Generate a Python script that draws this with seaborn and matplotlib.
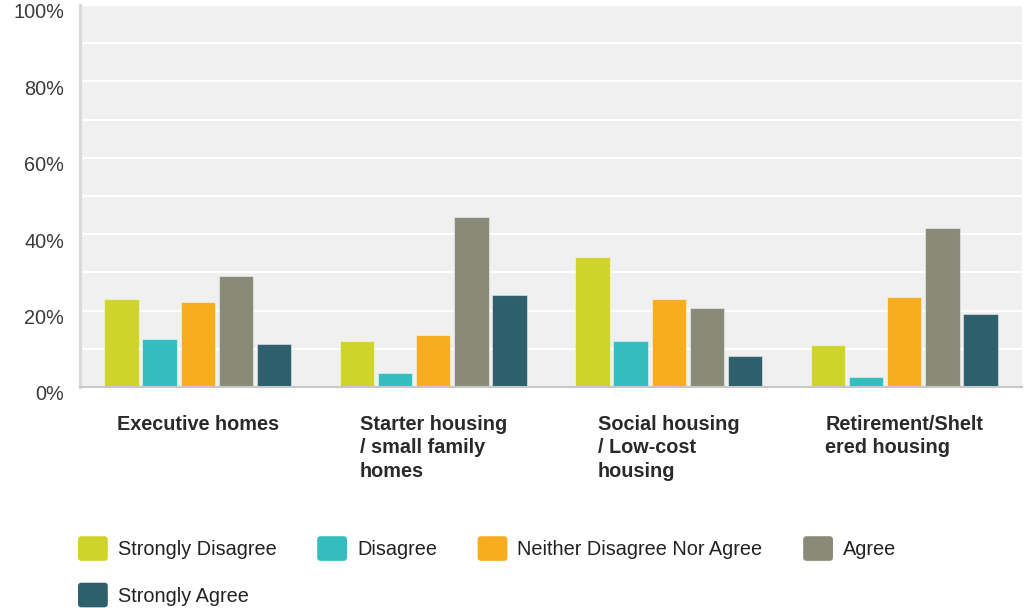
import matplotlib
matplotlib.use("Agg")
import matplotlib.pyplot as plt
import seaborn as sns
import pandas as pd
from matplotlib.patches import FancyBboxPatch
from matplotlib.legend_handler import HandlerPatch
from matplotlib.transforms import ScaledTranslation
from matplotlib.ticker import MultipleLocator, FuncFormatter

categories = ["Executive homes", "Starter housing\n/ small family\nhomes",
              "Social housing\n/ Low-cost\nhousing", "Retirement/Shelt\nered housing"]
responses = ["Strongly Disagree", "Disagree", "Neither Disagree Nor Agree", "Agree", "Strongly Agree"]
strongly_disagree = [23.1, 12.1, 34.1, 11.1]
disagree = [12.6, 3.6, 12.1, 2.7]
neither = [22.2, 13.6, 23.1, 23.6]
agree = [29.1, 44.6, 20.6, 41.5]
strongly_agree = [11.2, 24.1, 8.1, 19.1]
colors = ["#cfd42a", "#33bdbe", "#f6ae1f", "#898a78", "#2e5f6c"]

series = [strongly_disagree, disagree, neither, agree, strongly_agree]
rows = []
for resp, vals in zip(responses, series):
    for cat, v in zip(categories, vals):
        rows.append({"category": cat, "response": resp, "value": v / 100.0})
df = pd.DataFrame(rows)

sns.set_theme(style="white")
plt.rcParams["font.family"] = ["Liberation Sans", "DejaVu Sans"]

fig = plt.figure(figsize=(10.24, 6.08), dpi=100)
ax = fig.add_axes([80 / 1024, 1 - 387 / 608, 942 / 1024, 382 / 608])
ax.set_facecolor("#f0f0f0")

sns.barplot(data=df, x="category", y="value", hue="response", order=categories,
            hue_order=responses, palette=colors, saturation=1, width=0.81, gap=0.1,
            edgecolor=(1, 1, 1, 0.45), linewidth=0.8, ax=ax, legend=True, zorder=3)

ax.set_ylim(0, 1)
ax.set_xlim(-0.5, 3.5)
ax.yaxis.set_major_locator(MultipleLocator(0.2))
ax.yaxis.set_minor_locator(MultipleLocator(0.1))
ax.yaxis.set_major_formatter(FuncFormatter(lambda v, p: f"{int(round(v * 100))}%"))
ax.grid(axis="y", which="both", color="white", linewidth=1.6, zorder=0)
ax.grid(axis="x", visible=False)
ax.set_axisbelow(True)
ax.set_xlabel("")
ax.set_ylabel("")

for s in ["top", "right"]:
    ax.spines[s].set_visible(False)
ax.spines["left"].set_color("#d9d9d9")
ax.spines["left"].set_linewidth(2.2)
ax.spines["bottom"].set_color("#c8c8c8")
ax.spines["bottom"].set_linewidth(1.5)
ax.spines["bottom"].set_zorder(4)

ax.tick_params(axis="y", which="both", length=0, pad=11.5, labelsize=14.3, labelcolor="#3a3a3a")
ax.tick_params(axis="x", length=0, pad=20, labelsize=14.3, labelcolor="#2a2a2a")
for lab in ax.get_yticklabels():
    lab.set_transform(lab.get_transform() + ScaledTranslation(0, -6 / 100, fig.dpi_scale_trans))
for lab in ax.get_xticklabels():
    lab.set_fontweight("bold")
    lab.set_multialignment("left")
    lab.set_horizontalalignment("center")
    lab.set_verticalalignment("top")
    lab.set_linespacing(1.3)

handles, labels = ax.get_legend_handles_labels()
ax.legend_.remove()
order = [0, 4, 1, 2, 3]


class RoundHandler(HandlerPatch):
    def create_artists(self, legend, orig_handle, xdescent, ydescent, width, height, fontsize, trans):
        p = FancyBboxPatch((-xdescent, -ydescent - 2), width, height + 4,
                           boxstyle="round,pad=0,rounding_size=2.5",
                           facecolor=orig_handle.get_facecolor(), edgecolor="none", transform=trans)
        return [p]


leg = fig.legend([handles[i] for i in order], [labels[i] for i in order], ncol=4,
                 loc="upper left", bbox_to_anchor=(78 / 1024, 1 - 539 / 608),
                 frameon=False, fontsize=14.3, handlelength=1.5, handleheight=1.1,
                 handletextpad=0.5, columnspacing=2.05, labelspacing=1.32,
                 borderpad=0, borderaxespad=0,
                 handler_map={type(handles[0]): RoundHandler()})
for t in leg.get_texts():
    t.set_color("#222222")

fig.savefig("out.png", dpi=100)
